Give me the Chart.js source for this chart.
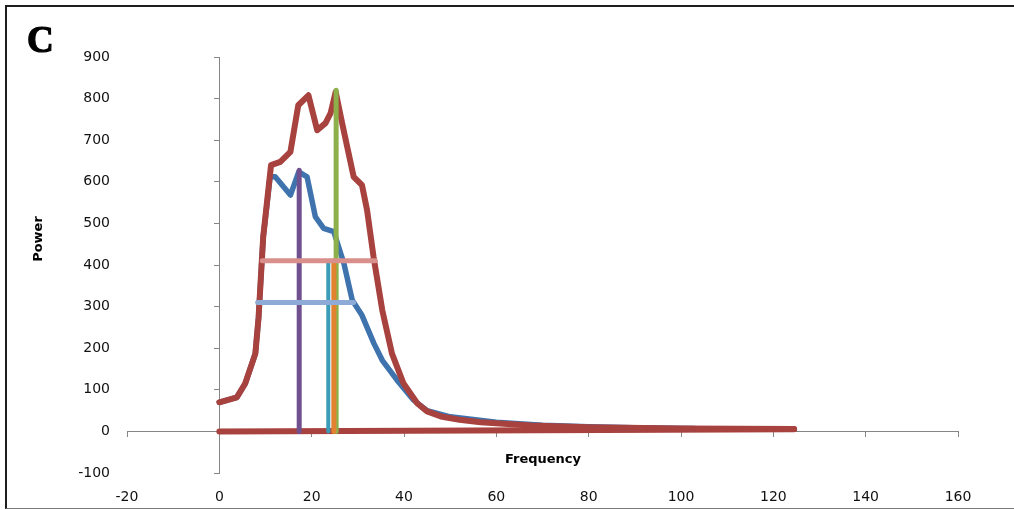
<!DOCTYPE html>
<html lang="en">
<head>
    <meta charset="UTF-8">
    <title>Power vs Frequency</title>
    <script src="https://cdn.jsdelivr.net/npm/chart.js"></script>
    <style>
        html, body {
            margin: 0;
            padding: 0;
            background: #fff;
            overflow: hidden;
        }
        #wrap {
            position: relative;
            width: 1014px;
            height: 510px;
        }
        #frame {
            position: absolute;
            left: 5px;
            top: 5px;
            width: 1100px;
            height: 501px;
            border-left: 2px solid #1e1e1e;
            border-top: 2px solid #1e1e1e;
            border-bottom: 1px solid #7a7a7a;
        }
        #chart {
            position: absolute;
            left: 0;
            top: 0;
        }
        .label {
            position: absolute;
            font-family: "DejaVu Sans", sans-serif;
            font-weight: bold;
            font-size: 13px;
            color: #000;
            white-space: nowrap;
        }
        #panel {
            position: absolute;
            left: 27px;
            top: 21px;
            font-family: "Liberation Serif", "DejaVu Serif", serif;
            font-weight: 700;
            font-size: 37px;
            line-height: 37px;
            color: #000;
            -webkit-text-stroke: 1.2px #000;
        }
        #ytitle {
            left: 37px;
            top: 239px;
            transform: translate(-50%, -50%) rotate(-90deg);
        }
        #xtitle {
            left: 543px;
            top: 458px;
            transform: translate(-50%, -50%);
        }
    </style>
</head>
<body>
    <div id="wrap">
        <div id="frame"></div>
        <canvas id="chart" width="1014" height="510"></canvas>
        <div id="panel">C</div>
        <div class="label" id="ytitle">Power</div>
        <div class="label" id="xtitle">Frequency</div>
    </div>

    <script>
        // Spectrum curves (frequency, power)
        const redFreq  = [0, 3.8, 5.6, 7.8, 8.5, 9.5, 11.2, 13.2, 15.4, 17.1, 19.3, 21.2, 23, 24.1, 25.2, 26.6, 27.7, 29.1, 30.9, 32, 33.4, 35.3, 37.4, 39.9, 42.9, 45, 48, 52, 56.6, 67.5, 79.8, 100, 124.5];
        const redPower = [70, 82, 115, 187, 274, 467, 640, 648, 672, 784, 808, 724, 741, 765, 816, 741, 684, 612, 592, 532, 420, 291, 187, 115, 67, 48, 36, 28, 22, 14, 10, 7, 6];

        const blueFreq  = [0, 3.8, 5.6, 7.8, 8.5, 9.5, 11, 12.1, 15.4, 17.2, 19, 20.8, 22.6, 24.8, 27, 28.8, 30.9, 33.5, 35.3, 38.5, 42.1, 45, 50, 60, 70, 80, 90, 103];
        const bluePower = [70, 82, 115, 187, 274, 467, 612, 612, 568, 624, 612, 516, 488, 480, 403, 315, 279, 211, 171, 123, 75, 50, 35, 22, 15, 11, 9, 7];

        const baseFreq  = [0, 124.5];
        const basePower = [0, 5];

        // Peak markers (vertical) and width markers (horizontal)
        const purpleFreq = [17.3, 17.3];
        const purplePower = [0, 628];
        const tealFreq = [23.6, 23.6];
        const tealPower = [0, 410];
        const orangeFreq = [24.8, 24.8];
        const orangePower = [0, 410];
        const greenFreq = [25.3, 25.3];
        const greenPower = [0, 820];
        const pinkFreq = [9.3, 33.8];
        const pinkPower = [410, 410];
        const lightBlueFreq = [8.3, 29.1];
        const lightBluePower = [310, 310];

        const xTicks = [-20, 0, 20, 40, 60, 80, 100, 120, 140, 160];
        const yTicks = [-100, 0, 100, 200, 300, 400, 500, 600, 700, 800, 900];

        function toPoints(xs, ys) {
            return xs.map((x, i) => ({ x: x, y: ys[i] }));
        }

        function lineSet(label, xs, ys, color, width) {
            return {
                label: label,
                data: toPoints(xs, ys),
                showLine: true,
                borderColor: color,
                borderWidth: width,
                borderCapStyle: 'round',
                borderJoinStyle: 'round',
                pointRadius: 0,
                fill: false,
                tension: 0
            };
        }

        // first dataset is painted last (on top)
        const datasets = [
            lineSet('width 2', lightBlueFreq, lightBluePower, '#8eaad6', 5),
            lineSet('width 1', pinkFreq, pinkPower, '#d98f8c', 5),
            lineSet('peak 3', orangeFreq, orangePower, '#e2812f', 5),
            lineSet('peak 4', tealFreq, tealPower, '#3a9cb8', 4),
            lineSet('peak 2', greenFreq, greenPower, '#8db04a', 5),
            lineSet('peak 1', purpleFreq, purplePower, '#70508f', 5),
            lineSet('series 2', redFreq, redPower, '#a8423e', 6),
            lineSet('series 1', blueFreq, bluePower, '#3f73ae', 5.5),
            lineSet('base', baseFreq, basePower, '#a8423e', 6)
        ];

        const tickFont = { family: 'DejaVu Sans', size: 14 };
        const axisGrey = '#868686';

        new Chart(document.getElementById('chart'), {
            type: 'scatter',
            data: { datasets: datasets },
            options: {
                responsive: false,
                animation: false,
                events: [],
                layout: { padding: { left: 4, top: 57, right: 56, bottom: 0 } },
                plugins: {
                    legend: { display: false },
                    tooltip: { enabled: false }
                },
                scales: {
                    x: {
                        type: 'linear',
                        position: 'bottom',
                        min: xTicks[0],
                        max: xTicks[xTicks.length - 1],
                        afterBuildTicks: (s) => { s.ticks = xTicks.map(v => ({ value: v })); },
                        afterFit: (s) => { s.height = 37; },
                        ticks: { font: tickFont, color: '#111', padding: 16 },
                        grid: { display: false, drawTicks: false },
                        border: { display: false }
                    },
                    y: {
                        type: 'linear',
                        position: 'left',
                        min: yTicks[0],
                        max: yTicks[yTicks.length - 1],
                        afterBuildTicks: (s) => { s.ticks = yTicks.map(v => ({ value: v })); },
                        afterFit: (s) => { s.width = 123; },
                        ticks: { font: tickFont, color: '#111', padding: 17 },
                        grid: { display: false, drawTicks: false },
                        border: { display: false }
                    },
                    // axis lines crossing at the origin
                    xAxisLine: {
                        type: 'linear',
                        axis: 'x',
                        position: { y: 0 },
                        min: xTicks[0],
                        max: xTicks[xTicks.length - 1],
                        afterBuildTicks: (s) => { s.ticks = xTicks.map(v => ({ value: v })); },
                        ticks: { display: false },
                        grid: { drawOnChartArea: false, drawTicks: true, tickLength: 5, color: axisGrey },
                        border: { color: axisGrey, width: 1 }
                    },
                    yAxisLine: {
                        type: 'linear',
                        axis: 'y',
                        position: { x: 0 },
                        min: yTicks[0],
                        max: yTicks[yTicks.length - 1],
                        afterBuildTicks: (s) => { s.ticks = yTicks.map(v => ({ value: v })); },
                        ticks: { display: false },
                        grid: { drawOnChartArea: false, drawTicks: true, tickLength: 5, color: axisGrey },
                        border: { color: axisGrey, width: 1 }
                    }
                }
            }
        });
    </script>
</body>
</html>
